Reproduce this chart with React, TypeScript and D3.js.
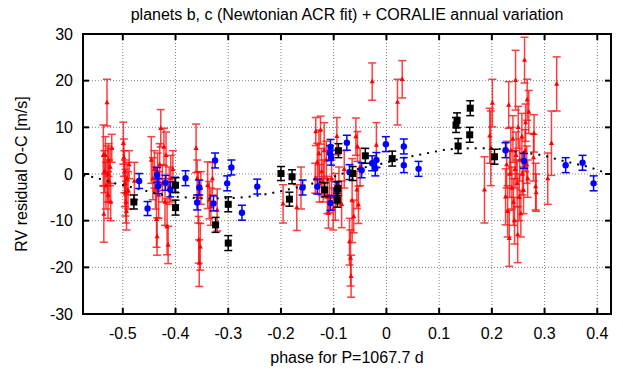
import React from "react";
import * as d3 from "d3";

// Residual RV series: [phase, residual m/s, error m/s]
const redPoints: [number, number, number][] = [
  // phase ≈ -0.53
  [-0.537, 4.0, 6.5], [-0.536, -8.6, 6.0], [-0.535, 0.5, 4.5], [-0.533, 4.0, 4.0],
  [-0.532, -2.5, 5.0], [-0.530, 15.3, 5.0], [-0.529, 0.0, 6.0], [-0.528, -4.5, 5.0],
  [-0.527, 3.0, 3.5], [-0.526, -1.5, 4.5], [-0.524, 1.5, 4.0], [-0.523, -6.0, 4.0],
  [-0.521, 5.5, 3.0],
  // phase ≈ -0.49
  [-0.499, 6.6, 4.5], [-0.498, 3.5, 4.0], [-0.497, 0.5, 4.5], [-0.496, -2.0, 5.0],
  [-0.495, -4.0, 5.0], [-0.494, -6.0, 4.5], [-0.493, -8.0, 4.0], [-0.492, -1.0, 3.5],
  [-0.490, -3.5, 4.0], [-0.488, 2.0, 3.0], [-0.478, -1.5, 4.0],
  // phase ≈ -0.42
  [-0.446, 3.0, 5.0], [-0.443, -1.0, 4.5], [-0.440, 1.0, 4.0], [-0.438, -3.0, 4.5],
  [-0.436, -9.7, 6.0], [-0.435, -13.4, 4.0], [-0.434, 0.5, 4.0], [-0.432, -4.5, 5.0],
  [-0.430, 2.0, 4.5], [-0.428, 9.8, 4.0], [-0.425, -2.0, 4.0], [-0.422, 5.8, 4.0],
  [-0.420, -6.0, 5.0], [-0.418, 4.0, 5.0], [-0.416, -11.3, 6.0], [-0.414, -15.2, 4.0],
  [-0.412, -2.5, 4.0], [-0.409, -1.0, 5.0], [-0.405, 1.0, 4.0],
  // phase ≈ -0.36
  [-0.361, 5.5, 5.2], [-0.359, -1.0, 4.0], [-0.357, -5.0, 5.5], [-0.356, -14.1, 5.0],
  [-0.355, -19.1, 5.0], [-0.353, -15.6, 5.0], [-0.352, -3.0, 3.5],
  // phase ≈ -0.33
  [-0.339, -2.4, 5.0], [-0.336, -5.6, 4.0], [-0.333, -7.0, 4.0], [-0.330, -1.0, 3.5],
  [-0.321, -7.7, 4.5],
  // phase ≈ -0.18
  [-0.196, -6.4, 4.1], [-0.170, -7.2, 4.9], [-0.162, -3.0, 4.5], [-0.135, -0.9, 3.2],
  // phase ≈ -0.1
  [-0.134, 9.1, 3.0], [-0.131, 2.6, 4.0], [-0.128, 4.4, 5.0], [-0.127, -2.0, 4.0],
  [-0.125, 9.4, 3.0], [-0.123, 0.5, 5.0], [-0.120, -1.5, 4.5], [-0.118, 5.0, 6.0],
  [-0.114, 3.0, 4.0], [-0.112, -4.5, 4.0], [-0.110, -8.4, 3.2], [-0.108, -4.9, 3.4],
  [-0.104, -1.0, 4.0], [-0.101, -7.5, 4.5], [-0.097, -4.9, 5.0], [-0.094, 8.1, 4.0],
  [-0.090, -2.5, 4.0], [-0.085, -6.5, 5.0], [-0.080, 1.0, 4.0], [-0.070, -14.5, 5.0],
  [-0.068, -18.0, 6.0], [-0.067, -21.9, 4.5], [-0.065, -5.7, 9.0], [-0.062, -9.1, 3.5],
  [-0.058, 8.0, 4.0], [-0.056, -3.4, 4.0], [-0.055, 5.9, 3.2], [-0.053, -6.6, 4.0],
  [-0.050, 1.5, 4.0],
  // phase ≈ 0
  [-0.027, 19.8, 4.0], [-0.019, 6.2, 4.8], [0.021, 15.4, 4.9], [0.030, 20.3, 4.0],
  // phase ≈ 0.25
  [0.186, -3.4, 7.1], [0.196, 8.2, 5.9], [0.198, 5.5, 8.0], [0.201, 15.2, 5.1],
  [0.226, -4.9, 6.0], [0.228, 2.0, 5.0], [0.230, -8.0, 5.5], [0.232, 14.8, 5.0],
  [0.233, -13.8, 6.0], [0.234, 0.0, 5.0], [0.236, 5.0, 5.0], [0.238, -3.0, 4.5],
  [0.240, 7.5, 5.0], [0.241, -6.0, 5.0], [0.243, -10.0, 5.0], [0.244, 1.0, 4.0],
  [0.245, 20.1, 6.4], [0.246, 4.0, 5.0], [0.248, -2.0, 5.0], [0.249, -13.0, 6.0],
  [0.250, 10.0, 4.5], [0.252, -5.0, 5.0], [0.253, 3.0, 4.5], [0.255, -8.5, 5.0],
  [0.257, 8.0, 5.0], [0.258, 0.0, 4.5], [0.260, -3.5, 5.0], [0.262, 24.4, 4.9],
  [0.263, 5.0, 4.5], [0.264, 11.0, 4.0], [0.266, 2.0, 4.0], [0.267, 15.9, 4.4],
  [0.268, -1.0, 4.0], [0.270, 13.3, 4.6], [0.279, 3.5, 5.0], [0.280, 8.7, 4.0],
  [0.283, -2.7, 5.0], [0.284, -4.0, 4.0], [0.306, -1.0, 5.5], [0.313, 6.6, 6.9],
  [0.323, 19.3, 5.8],
];

const bluePoints: [number, number, number][] = [
  [-0.469, -1.5, 1.6], [-0.453, -7.4, 1.5], [-0.435, -0.2, 1.6], [-0.433, -2.6, 1.6],
  [-0.419, -1.9, 1.6], [-0.410, -3.3, 1.6], [-0.401, -2.3, 1.6], [-0.381, -0.9, 1.6],
  [-0.355, -2.9, 1.6], [-0.359, -6.1, 1.6], [-0.328, -6.3, 1.6], [-0.325, 2.9, 1.6],
  [-0.302, -2.0, 1.6], [-0.294, 1.4, 1.6], [-0.274, -8.3, 1.6], [-0.245, -2.7, 1.6],
  [-0.159, -2.9, 1.6], [-0.131, -2.7, 1.6], [-0.106, 5.8, 1.6], [-0.107, 4.5, 1.6],
  [-0.105, 3.5, 1.6], [-0.106, -6.2, 1.6], [-0.095, -3.3, 1.6], [-0.075, 6.7, 1.6],
  [-0.070, 0.4, 1.6], [-0.047, 0.8, 1.6], [-0.027, 2.3, 1.6], [-0.019, 3.0, 1.6],
  [-0.021, 1.2, 1.6], [-0.001, 6.4, 1.6], [0.033, 5.9, 1.6], [0.033, 1.9, 1.6],
  [0.061, 1.1, 1.6], [0.226, 5.1, 1.6], [0.261, 2.8, 1.6], [0.340, 1.9, 1.6],
  [0.372, 2.4, 1.6], [0.393, -2.0, 1.6],
];

const blackPoints: [number, number, number][] = [
  [-0.479, -6.0, 1.5], [-0.400, -2.4, 1.6], [-0.400, -7.2, 1.6], [-0.324, -10.9, 1.6],
  [-0.300, -6.5, 1.6], [-0.300, -14.8, 1.6], [-0.200, 0.1, 1.5], [-0.179, -0.6, 1.5],
  [-0.184, -5.4, 1.5], [-0.117, -3.4, 1.5], [-0.092, -3.1, 1.5], [-0.093, -5.6, 1.5],
  [-0.091, 5.0, 1.5], [-0.064, 0.1, 1.5], [-0.040, 3.9, 1.6], [0.011, 3.3, 1.6],
  [0.132, 10.5, 1.6], [0.134, 11.5, 1.6], [0.159, 14.1, 1.6], [0.158, 8.4, 1.6],
  [0.136, 6.0, 1.6], [0.205, 3.7, 1.6],
];

// Annual-variation model curve: [phase, m/s]
const curvePoints: [number, number][] = [
  [-0.575, -0.3], [-0.559, -0.6], [-0.545, -1.0], [-0.515, -2.0], [-0.485, -2.8],
  [-0.457, -3.6], [-0.428, -4.4], [-0.367, -5.1], [-0.339, -5.2], [-0.309, -5.2],
  [-0.263, -4.9], [-0.218, -4.1], [-0.174, -3.0], [-0.146, -2.2], [-0.114, -1.3],
  [-0.102, -0.7], [-0.049, 1.2], [-0.013, 2.1], [0.031, 3.4], [0.071, 4.3],
  [0.120, 5.3], [0.164, 5.5], [0.196, 5.5], [0.257, 4.6], [0.300, 3.9],
  [0.325, 3.1], [0.354, 2.3], [0.386, 1.4], [0.414, 0.3],
];

const xTicks = [-0.5, -0.4, -0.3, -0.2, -0.1, 0, 0.1, 0.2, 0.3, 0.4];
const yTicks = [-30, -20, -10, 0, 10, 20, 30];

const W = 623;
const H = 369;
const left = 83;
const right = 611;
const top = 34;
const bottom = 314;

const FONT = "'Liberation Sans', Arial, Helvetica, sans-serif";
const FS = 16;

export default function App() {
  const x = d3.scaleLinear().domain([-0.5755, 0.426]).range([left, right]);
  const y = d3.scaleLinear().domain([-30, 30]).range([bottom, top]);

  const line = d3
    .line<[number, number]>()
    .x((d) => x(d[0]))
    .y((d) => y(d[1]))
    .curve(d3.curveMonotoneX);

  const cap = 4;
  const fmtX = (v: number) => (v === 0 ? "0" : d3.format(".1f")(v).replace("−", "-"));

  const errBar = (d: [number, number, number], color: string, key: string, sw: number, op = 1) => {
    const cx = x(d[0]);
    const y1 = y(d[1] + d[2]);
    const y2 = y(d[1] - d[2]);
    return (
      <g key={key} stroke={color} strokeWidth={sw} opacity={op}>
        <line x1={cx} x2={cx} y1={y1} y2={y2} />
        <line x1={cx - cap} x2={cx + cap} y1={y1} y2={y1} />
        <line x1={cx - cap} x2={cx + cap} y1={y2} y2={y2} />
      </g>
    );
  };

  return (
    <svg
      width={W}
      height={H}
      style={{ position: "absolute", left: 0, top: 0, background: "#fff" }}
      fontFamily={FONT}
    >
      <rect x={0} y={0} width={W} height={H} fill="#fff" />
      {/* grid */}
      <g stroke="#808080" strokeWidth={1} strokeDasharray="1,2">
        {xTicks.map((t) => (
          <line key={"gx" + t} x1={x(t)} x2={x(t)} y1={top} y2={bottom} />
        ))}
        {yTicks.map((t) => (
          <line key={"gy" + t} x1={left} x2={right} y1={y(t)} y2={y(t)} />
        ))}
      </g>

      {/* red series */}
      <g>
        {redPoints.map((d, i) => errBar(d, "#ff1010", "re" + i, 1.5, 0.8))}
        {redPoints.map((d, i) => {
          const cx = x(d[0]);
          const cy = y(d[1]);
          return (
            <path
              key={"rt" + i}
              d={`M${cx},${cy - 3}L${cx + 2.5},${cy + 1.7}L${cx - 2.5},${cy + 1.7}Z`}
              fill="#ff0000"
            />
          );
        })}
      </g>

      {/* model curve */}
      <path
        d={line(curvePoints) || ""}
        fill="none"
        stroke="#000"
        strokeWidth={2}
        strokeDasharray="2,6"
      />

      {/* blue series */}
      <g>
        {bluePoints.map((d, i) => errBar(d, "#0000ff", "be" + i, 1.5))}
        {bluePoints.map((d, i) => (
          <circle key={"bc" + i} cx={x(d[0])} cy={y(d[1])} r={3.2} fill="#0000ff" />
        ))}
      </g>

      {/* black series */}
      <g>
        {blackPoints.map((d, i) => errBar(d, "#000", "ke" + i, 1.5))}
        {blackPoints.map((d, i) => (
          <rect key={"ks" + i} x={x(d[0]) - 3.5} y={y(d[1]) - 3.5} width={7} height={7} fill="#000" />
        ))}
      </g>

      {/* ticks on all four sides */}
      <g stroke="#000" strokeWidth={2}>
        {xTicks.map((t) => (
          <g key={"tx" + t}>
            <line x1={x(t)} x2={x(t)} y1={bottom} y2={bottom - 6} />
            <line x1={x(t)} x2={x(t)} y1={top} y2={top + 6} />
          </g>
        ))}
        {yTicks.map((t) => (
          <g key={"ty" + t}>
            <line x1={left} x2={left + 6} y1={y(t)} y2={y(t)} />
            <line x1={right} x2={right - 6} y1={y(t)} y2={y(t)} />
          </g>
        ))}
      </g>
      <rect x={left} y={top} width={right - left} height={bottom - top} fill="none" stroke="#000" strokeWidth={2} />

      {/* tick labels */}
      <g fontSize={FS} fill="#000">
        {xTicks.map((t) => (
          <text key={"lx" + t} x={x(t)} y={339} textAnchor="middle">
            {fmtX(t)}
          </text>
        ))}
        {yTicks.map((t) => (
          <text key={"ly" + t} x={73} y={y(t) + 5.5} textAnchor="end">
            {t}
          </text>
        ))}
      </g>

      <text x={(left + right) / 2} y={20} textAnchor="middle" fontSize={16}>
        planets b, c (Newtonian ACR fit) + CORALIE annual variation
      </text>
      <text x={(left + right) / 2} y={363} textAnchor="middle" fontSize={FS}>
        phase for P=1067.7 d
      </text>
      <text
        transform={`translate(27,${(top + bottom) / 2}) rotate(-90)`}
        textAnchor="middle"
        fontSize={FS}
      >
        RV residual O-C [m/s]
      </text>
    </svg>
  );
}
